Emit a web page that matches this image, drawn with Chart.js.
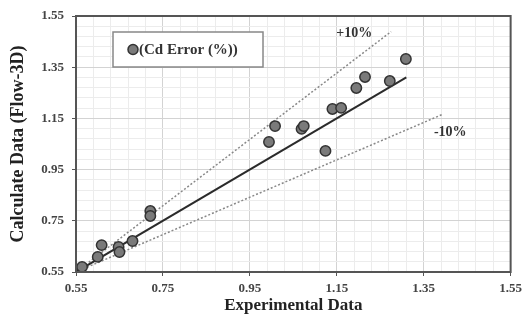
<!DOCTYPE html>
<html>
<head>
<meta charset="utf-8">
<script src="https://cdn.jsdelivr.net/npm/chart.js@4"></script>
<style>
  html, body { margin: 0; padding: 0; background: #fff; }
  #wrap { width: 527px; height: 321px; }
</style>
</head>
<body>
<div id="wrap"><canvas id="myChart" width="527" height="321"></canvas></div>
<script>
// values
const experimental = [0.564, 0.600, 0.609, 0.648, 0.650, 0.680, 0.721, 0.721, 0.994, 1.008,
                      1.069, 1.074, 1.124, 1.140, 1.160, 1.195, 1.215, 1.272, 1.309];
const calculated   = [0.570, 0.609, 0.655, 0.648, 0.628, 0.671, 0.788, 0.769, 1.058, 1.120,
                      1.109, 1.120, 1.023, 1.187, 1.191, 1.269, 1.312, 1.296, 1.382];
const fitX   = [0.55, 1.31];
const fitY   = [0.55, 1.31];
const upperX = [0.55, 1.275];
const upperY = [0.55, 1.489];
const lowerX = [0.55, 1.395];
const lowerY = [0.55, 1.167];
const axisTicks = [0.55, 0.75, 0.95, 1.15, 1.35, 1.55];

const serif = "'Liberation Serif', 'Times New Roman', serif";

function pts(xs, ys) {
    return xs.map((x, i) => ({ x: x, y: ys[i] }));
}
function isMajor(v) {
    return axisTicks.some(t => Math.abs(t - v) < 0.005);
}

const framePlugin = {
    id: 'frame',
    afterDatasetsDraw(chart) {
        const { ctx, chartArea: a, scales } = chart;
        ctx.save();
        ctx.strokeStyle = '#555';
        ctx.lineWidth = 2;
        ctx.strokeRect(a.left, a.top, a.right - a.left, a.bottom - a.top);

        // +10% / -10% labels
        ctx.fillStyle = '#333';
        ctx.font = "bold 14px " + serif;
        ctx.textAlign = 'center';
        ctx.textBaseline = 'middle';
        ctx.fillText('+10%', scales.x.getPixelForValue(1.19), scales.y.getPixelForValue(1.484));
        ctx.fillText('-10%', scales.x.getPixelForValue(1.411), scales.y.getPixelForValue(1.097));

        // legend box
        const bx = 113, by = 32, bw = 150, bh = 35;
        ctx.fillStyle = '#fff';
        ctx.fillRect(bx, by, bw, bh);
        ctx.strokeStyle = '#888';
        ctx.lineWidth = 1.5;
        ctx.strokeRect(bx, by, bw, bh);
        ctx.beginPath();
        ctx.arc(bx + 20, by + 17.5, 5, 0, Math.PI * 2);
        ctx.fillStyle = '#7a7a7a';
        ctx.fill();
        ctx.strokeStyle = '#333';
        ctx.lineWidth = 1.5;
        ctx.stroke();
        ctx.fillStyle = '#333';
        ctx.font = "bold 15px " + serif;
        ctx.textAlign = 'left';
        ctx.fillText(chart.data.datasets[0].label, bx + 26, by + 18);
        ctx.restore();
    }
};

const ctx = document.getElementById('myChart');
new Chart(ctx, {
    type: 'scatter',
    data: {
        datasets: [{
            label: '(Cd Error (%))',
            data: pts(experimental, calculated),
            backgroundColor: '#7a7a7a',
            borderColor: '#333',
            borderWidth: 1.5,
            pointRadius: 5.2
        }, {
            label: 'fit',
            data: pts(fitX, fitY),
            showLine: true,
            borderColor: '#2b2b2b',
            borderWidth: 2,
            pointRadius: 0
        }, {
            label: '+10%',
            data: pts(upperX, upperY),
            showLine: true,
            borderColor: '#888',
            borderWidth: 1.5,
            borderDash: [2, 2],
            pointRadius: 0
        }, {
            label: '-10%',
            data: pts(lowerX, lowerY),
            showLine: true,
            borderColor: '#888',
            borderWidth: 1.5,
            borderDash: [2, 2],
            pointRadius: 0
        }]
    },
    options: {
        responsive: false,
        animation: false,
        layout: { padding: { top: 16, right: 12, left: 0, bottom: 0 } },
        plugins: {
            legend: { display: false },
            tooltip: { enabled: false }
        },
        scales: {
            x: {
                type: 'linear',
                min: 0.55,
                max: 1.55,
                afterFit(scale) { scale.height = 49; },
                ticks: {
                    stepSize: 0.04,
                    maxTicksLimit: 30,
                    autoSkip: false,
                    maxRotation: 0,
                    padding: 5,
                    color: '#444',
                    font: { family: serif, size: 13, weight: 'bold' },
                    callback: v => isMajor(v) ? v.toFixed(2) : ''
                },
                grid: {
                    color: c => isMajor(c.tick.value) ? '#d3d3d3' : '#ececec',
                    tickColor: c => isMajor(c.tick.value) ? '#555' : 'rgba(0,0,0,0)',
                    tickLength: 4
                },
                border: { display: false },
                title: {
                    display: true,
                    text: 'Experimental Data',
                    color: '#222',
                    padding: { top: 0, bottom: 5 },
                    font: { family: serif, size: 17, weight: 'bold' }
                }
            },
            y: {
                type: 'linear',
                min: 0.55,
                max: 1.55,
                afterFit(scale) { scale.width = 76; },
                ticks: {
                    stepSize: 0.04,
                    maxTicksLimit: 30,
                    autoSkip: false,
                    padding: 8,
                    color: '#444',
                    font: { family: serif, size: 13, weight: 'bold' },
                    callback: v => isMajor(v) ? v.toFixed(2) : ''
                },
                grid: {
                    color: c => isMajor(c.tick.value) ? '#d3d3d3' : '#ececec',
                    tickColor: c => isMajor(c.tick.value) ? '#555' : 'rgba(0,0,0,0)',
                    tickLength: 4
                },
                border: { display: false },
                title: {
                    display: true,
                    text: 'Calculate Data (Flow-3D)',
                    color: '#222',
                    padding: { top: 8, bottom: 0 },
                    font: { family: serif, size: 18, weight: 'bold' }
                }
            }
        }
    },
    plugins: [framePlugin]
});
</script>
</body>
</html>
